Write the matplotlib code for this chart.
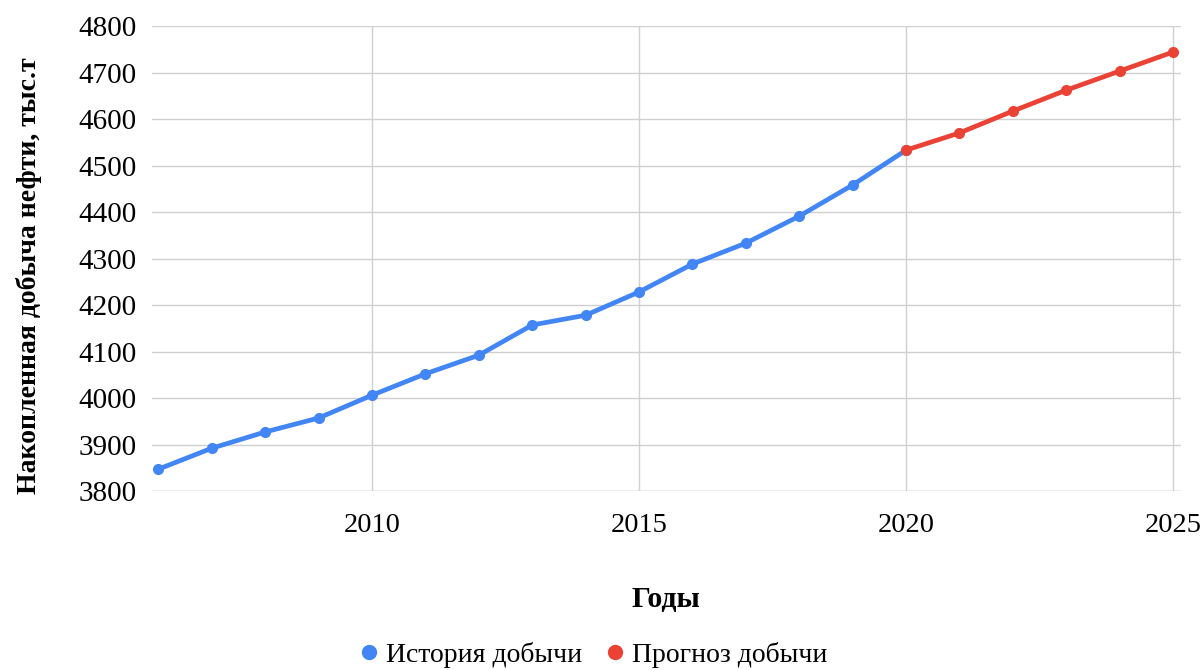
import matplotlib
matplotlib.use("Agg")
import matplotlib.pyplot as plt
from matplotlib.lines import Line2D

plt.rcParams['font.family'] = ['Liberation Serif', 'DejaVu Serif']

hist_years = [2006, 2007, 2008, 2009, 2010, 2011, 2012, 2013, 2014, 2015,
              2016, 2017, 2018, 2019, 2020]
hist_values = [3847, 3892, 3927, 3957, 4006, 4052, 4092, 4157, 4178, 4228,
               4288, 4333, 4391, 4458, 4533]
fc_years = [2020, 2021, 2022, 2023, 2024, 2025]
fc_values = [4533, 4570, 4617, 4662, 4703, 4744]

x_ticks = [2010, 2015, 2020, 2025]
y_ticks = [3800, 3900, 4000, 4100, 4200, 4300, 4400, 4500, 4600, 4700, 4800]

blue = '#4285F4'
red = '#EA4335'

fig = plt.figure(figsize=(12.02, 6.70), dpi=100)
ax = fig.add_axes([152/1202, 1-491/670, (1181-152)/1202, (491-26)/670])

ax.plot(hist_years, hist_values, color=blue, lw=3.4, marker='o', ms=7,
        solid_capstyle='round', zorder=3, clip_on=False)
ax.plot(fc_years, fc_values, color=red, lw=3.4, marker='o', ms=7,
        solid_capstyle='round', zorder=4, clip_on=False)

ax.set_xlim(2005.88, 2025.15)
ax.set_ylim(3800, 4800)
ax.set_xticks(x_ticks)
ax.set_yticks(y_ticks)
ax.tick_params(axis='both', length=0)
ax.tick_params(axis='y', labelsize=21, pad=11)
ax.tick_params(axis='x', labelsize=20.5, pad=16)
ax.grid(True, color='#d0d0d0', lw=1.0)
ax.set_axisbelow(True)
for s in ax.spines.values():
    s.set_visible(False)
ax.axhline(3800, color='#c8c8c8', lw=1.0, zorder=1)

ax.set_ylabel('Накопленная добыча нефти, тыс.т', fontsize=20, fontweight='bold')
ax.yaxis.set_label_coords((42 - 152)/(1181-152), (491-276)/(491-26))
fig.text(666/1202, 1-599/670, 'Годы', fontsize=21.5, fontweight='bold', ha='center', va='center')

handles = [Line2D([], [], ls='none', marker='o', ms=10, color=blue),
           Line2D([], [], ls='none', marker='o', ms=10, color=red)]
fig.legend(handles, ['История добычи', 'Прогноз добычи'], loc='center',
           bbox_to_anchor=(591/1202, 1-655/670), ncol=2, frameon=False,
           fontsize=20, handletextpad=0.1, columnspacing=0.7, handlelength=1.0)

fig.savefig('out.png', dpi=100)
